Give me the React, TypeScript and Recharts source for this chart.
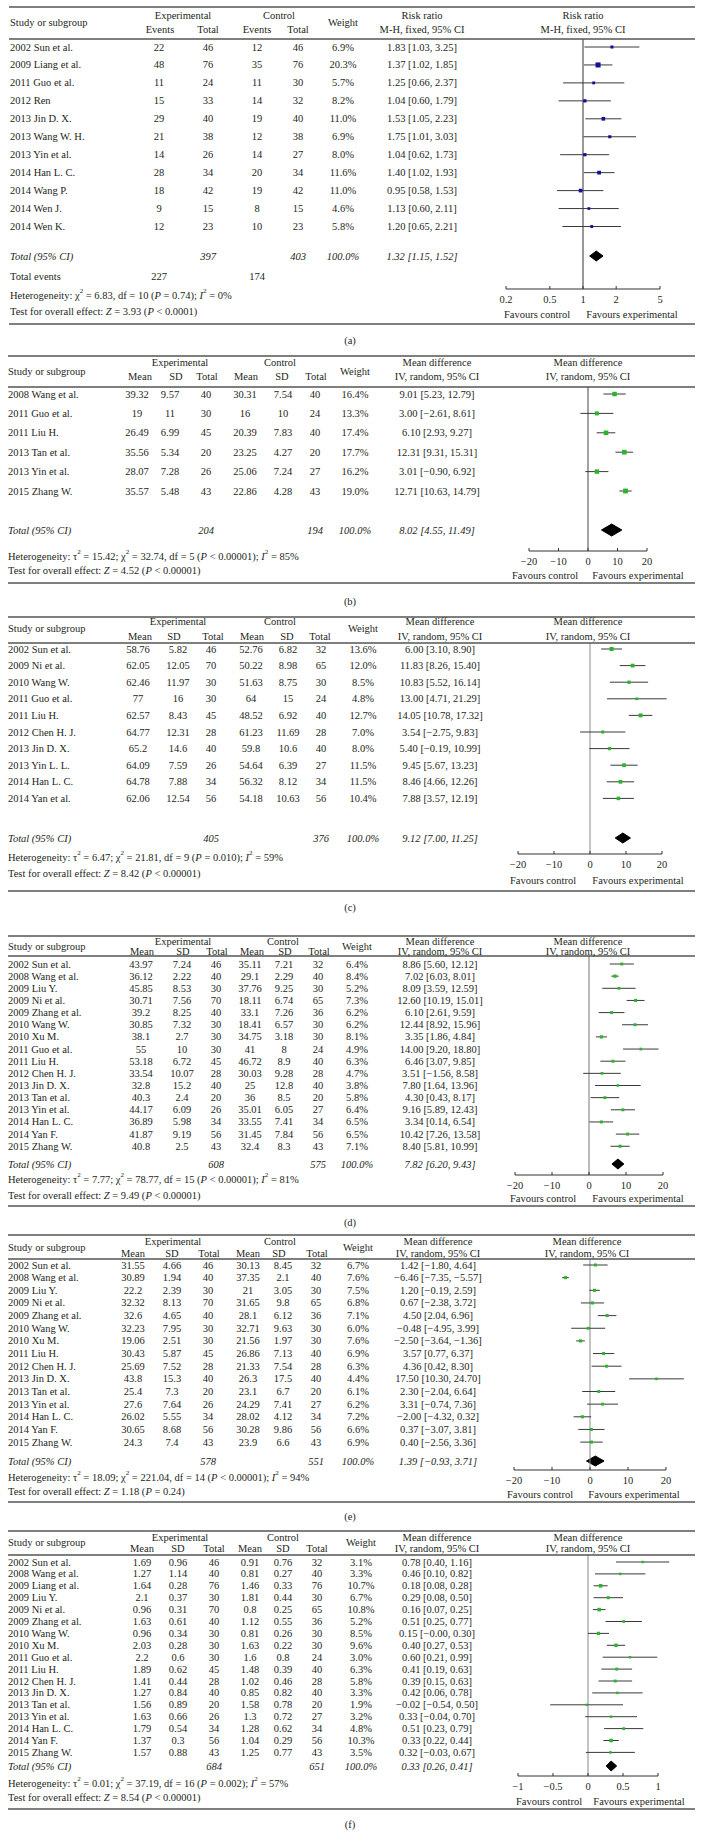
import React from "react";
import { ComposedChart, XAxis, YAxis, Scatter, Area, ReferenceLine } from "recharts";

if (typeof document !== "undefined") document.body.style.margin = "0";

const W = 703;
const H = 1846;
const FONT = '"Liberation Serif", "Times New Roman", serif';
const INK = "#231f20";
const BLUE = "#10109c";
const GREEN = "#2cb52c";

// ---------- (a) risk ratio, fixed ----------
const A_STUDIES = ["2002 Sun et al.", "2009 Liang et al.", "2011 Guo et al.", "2012 Ren", "2013 Jin D. X.", "2013 Wang W. H.", "2013 Yin et al.", "2014 Han L. C.", "2014 Wang P.", "2014 Wen J.", "2014 Wen K."];
const A_EXP = [[22, 46], [48, 76], [11, 24], [15, 33], [29, 40], [21, 38], [14, 26], [28, 34], [18, 42], [9, 15], [12, 23]];
const A_CTRL = [[12, 46], [35, 76], [11, 30], [14, 32], [19, 40], [12, 38], [14, 27], [20, 34], [19, 42], [8, 15], [10, 23]];
const A_WEIGHT = [6.9, 20.3, 5.7, 8.2, 11.0, 6.9, 8.0, 11.6, 11.0, 4.6, 5.8];
const A_EST = [1.83, 1.37, 1.25, 1.04, 1.53, 1.75, 1.04, 1.40, 0.95, 1.13, 1.20];
const A_LO = [1.03, 1.02, 0.66, 0.60, 1.05, 1.01, 0.62, 1.02, 0.58, 0.60, 0.65];
const A_HI = [3.25, 1.85, 2.37, 1.79, 2.23, 3.03, 1.73, 1.93, 1.53, 2.11, 2.21];
const A_TOTAL_N = [397, 403];
const A_TOTAL_CI = [1.32, 1.15, 1.52];
const A_EVENTS = [227, 174];
const A_HET = "Heterogeneity: χ^2 = 6.83, df = 10 (_P_ = 0.74); _I_^2 = 0%";
const A_TEST = "Test for overall effect: _Z_ = 3.93 (_P_ < 0.0001)";
const A_TICKS = [0.2, 0.5, 1, 2, 5];

// ---------- (b) ----------
const B_STUDIES = ["2008 Wang et al.", "2011 Guo et al.", "2011 Liu H.", "2013 Tan et al.", "2013 Yin et al.", "2015 Zhang W."];
const B_EXP = [[39.32, 9.57, 40], [19, 11, 30], [26.49, 6.99, 45], [35.56, 5.34, 20], [28.07, 7.28, 26], [35.57, 5.48, 43]];
const B_CTRL = [[30.31, 7.54, 40], [16, 10, 24], [20.39, 7.83, 40], [23.25, 4.27, 20], [25.06, 7.24, 27], [22.86, 4.28, 43]];
const B_WEIGHT = [16.4, 13.3, 17.4, 17.7, 16.2, 19.0];
const B_EST = [9.01, 3.00, 6.10, 12.31, 3.01, 12.71];
const B_LO = [5.23, -2.61, 2.93, 9.31, -0.90, 10.63];
const B_HI = [12.79, 8.61, 9.27, 15.31, 6.92, 14.79];
const B_TOTAL_N = [204, 194];
const B_TOTAL_CI = [8.02, 4.55, 11.49];
const B_HET = "Heterogeneity: τ^2 = 15.42; χ^2 = 32.74, df = 5 (_P_ < 0.00001); _I_^2 = 85%";
const B_TEST = "Test for overall effect: _Z_ = 4.52 (_P_ < 0.00001)";

// ---------- (c) ----------
const C_STUDIES = ["2002 Sun et al.", "2009 Ni et al.", "2010 Wang W.", "2011 Guo et al.", "2011 Liu H.", "2012 Chen H. J.", "2013 Jin D. X.", "2013 Yin L. L.", "2014 Han L. C.", "2014 Yan et al."];
const C_EXP = [[58.76, 5.82, 46], [62.05, 12.05, 70], [62.46, 11.97, 30], [77, 16, 30], [62.57, 8.43, 45], [64.77, 12.31, 28], [65.2, 14.6, 40], [64.09, 7.59, 26], [64.78, 7.88, 34], [62.06, 12.54, 56]];
const C_CTRL = [[52.76, 6.82, 32], [50.22, 8.98, 65], [51.63, 8.75, 30], [64, 15, 24], [48.52, 6.92, 40], [61.23, 11.69, 28], [59.8, 10.6, 40], [54.64, 6.39, 27], [56.32, 8.12, 34], [54.18, 10.63, 56]];
const C_WEIGHT = [13.6, 12.0, 8.5, 4.8, 12.7, 7.0, 8.0, 11.5, 11.5, 10.4];
const C_EST = [6.00, 11.83, 10.83, 13.00, 14.05, 3.54, 5.40, 9.45, 8.46, 7.88];
const C_LO = [3.10, 8.26, 5.52, 4.71, 10.78, -2.75, -0.19, 5.67, 4.66, 3.57];
const C_HI = [8.90, 15.40, 16.14, 21.29, 17.32, 9.83, 10.99, 13.23, 12.26, 12.19];
const C_TOTAL_N = [405, 376];
const C_TOTAL_CI = [9.12, 7.00, 11.25];
const C_HET = "Heterogeneity: τ^2 = 6.47; χ^2 = 21.81, df = 9 (_P_ = 0.010); _I_^2 = 59%";
const C_TEST = "Test for overall effect: _Z_ = 8.42 (_P_ < 0.00001)";

// ---------- (d) ----------
const D_STUDIES = ["2002 Sun et al.", "2008 Wang et al.", "2009 Liu Y.", "2009 Ni et al.", "2009 Zhang et al.", "2010 Wang W.", "2010 Xu M.", "2011 Guo et al.", "2011 Liu H.", "2012 Chen H. J.", "2013 Jin D. X.", "2013 Tan et al.", "2013 Yin et al.", "2014 Han L. C.", "2014 Yan F.", "2015 Zhang W."];
const D_EXP = [[43.97, 7.24, 46], [36.12, 2.22, 40], [45.85, 8.53, 30], [30.71, 7.56, 70], [39.2, 8.25, 40], [30.85, 7.32, 30], [38.1, 2.7, 30], [55, 10, 30], [53.18, 6.72, 45], [33.54, 10.07, 28], [32.8, 15.2, 40], [40.3, 2.4, 20], [44.17, 6.09, 26], [36.89, 5.98, 34], [41.87, 9.19, 56], [40.8, 2.5, 43]];
const D_CTRL = [[35.11, 7.21, 32], [29.1, 2.29, 40], [37.76, 9.25, 30], [18.11, 6.74, 65], [33.1, 7.26, 36], [18.41, 6.57, 30], [34.75, 3.18, 30], [41, 8, 24], [46.72, 8.9, 40], [30.03, 9.28, 28], [25, 12.8, 40], [36, 8.5, 20], [35.01, 6.05, 27], [33.55, 7.41, 34], [31.45, 7.84, 56], [32.4, 8.3, 43]];
const D_WEIGHT = [6.4, 8.4, 5.2, 7.3, 6.2, 6.2, 8.1, 4.9, 6.3, 4.7, 3.8, 5.8, 6.4, 6.5, 6.5, 7.1];
const D_EST = [8.86, 7.02, 8.09, 12.60, 6.10, 12.44, 3.35, 14.00, 6.46, 3.51, 7.80, 4.30, 9.16, 3.34, 10.42, 8.40];
const D_LO = [5.60, 6.03, 3.59, 10.19, 2.61, 8.92, 1.86, 9.20, 3.07, -1.56, 1.64, 0.43, 5.89, 0.14, 7.26, 5.81];
const D_HI = [12.12, 8.01, 12.59, 15.01, 9.59, 15.96, 4.84, 18.80, 9.85, 8.58, 13.96, 8.17, 12.43, 6.54, 13.58, 10.99];
const D_TOTAL_N = [608, 575];
const D_TOTAL_CI = [7.82, 6.20, 9.43];
const D_HET = "Heterogeneity: τ^2 = 7.77; χ^2 = 78.77, df = 15 (_P_ < 0.00001); _I_^2 = 81%";
const D_TEST = "Test for overall effect: _Z_ = 9.49 (_P_ < 0.00001)";

// ---------- (e) ----------
const E_STUDIES = ["2002 Sun et al.", "2008 Wang et al.", "2009 Liu Y.", "2009 Ni et al.", "2009 Zhang et al.", "2010 Wang W.", "2010 Xu M.", "2011 Liu H.", "2012 Chen H. J.", "2013 Jin D. X.", "2013 Tan et al.", "2013 Yin et al.", "2014 Han L. C.", "2014 Yan F.", "2015 Zhang W."];
const E_EXP = [[31.55, 4.66, 46], [30.89, 1.94, 40], [22.2, 2.39, 30], [32.32, 8.13, 70], [32.6, 4.65, 40], [32.23, 7.95, 30], [19.06, 2.51, 30], [30.43, 5.87, 45], [25.69, 7.52, 28], [43.8, 15.3, 40], [25.4, 7.3, 20], [27.6, 7.64, 26], [26.02, 5.55, 34], [30.65, 8.68, 56], [24.3, 7.4, 43]];
const E_CTRL = [[30.13, 8.45, 32], [37.35, 2.1, 40], [21, 3.05, 30], [31.65, 9.8, 65], [28.1, 6.12, 36], [32.71, 9.63, 30], [21.56, 1.97, 30], [26.86, 7.13, 40], [21.33, 7.54, 28], [26.3, 17.5, 40], [23.1, 6.7, 20], [24.29, 7.41, 27], [28.02, 4.12, 34], [30.28, 9.86, 56], [23.9, 6.6, 43]];
const E_WEIGHT = [6.7, 7.6, 7.5, 6.8, 7.1, 6.0, 7.6, 6.9, 6.3, 4.4, 6.1, 6.2, 7.2, 6.6, 6.9];
const E_EST = [1.42, -6.46, 1.20, 0.67, 4.50, -0.48, -2.50, 3.57, 4.36, 17.50, 2.30, 3.31, -2.00, 0.37, 0.40];
const E_LO = [-1.80, -7.35, -0.19, -2.38, 2.04, -4.95, -3.64, 0.77, 0.42, 10.30, -2.04, -0.74, -4.32, -3.07, -2.56];
const E_HI = [4.64, -5.57, 2.59, 3.72, 6.96, 3.99, -1.36, 6.37, 8.30, 24.70, 6.64, 7.36, 0.32, 3.81, 3.36];
const E_TOTAL_N = [578, 551];
const E_TOTAL_CI = [1.39, -0.93, 3.71];
const E_HET = "Heterogeneity: τ^2 = 18.09; χ^2 = 221.04, df = 14 (_P_ < 0.00001); _I_^2 = 94%";
const E_TEST = "Test for overall effect: _Z_ = 1.18 (_P_ = 0.24)";

// ---------- (f) ----------
const F_STUDIES = ["2002 Sun et al.", "2008 Wang et al.", "2009 Liang et al.", "2009 Liu Y.", "2009 Ni et al.", "2009 Zhang et al.", "2010 Wang W.", "2010 Xu M.", "2011 Guo et al.", "2011 Liu H.", "2012 Chen H. J.", "2013 Jin D. X.", "2013 Tan et al.", "2013 Yin et al.", "2014 Han L. C.", "2014 Yan F.", "2015 Zhang W."];
const F_EXP = [[1.69, 0.96, 46], [1.27, 1.14, 40], [1.64, 0.28, 76], [2.1, 0.37, 30], [0.96, 0.31, 70], [1.63, 0.61, 40], [0.96, 0.34, 30], [2.03, 0.28, 30], [2.2, 0.6, 30], [1.89, 0.62, 45], [1.41, 0.44, 28], [1.27, 0.84, 40], [1.56, 0.89, 20], [1.63, 0.66, 26], [1.79, 0.54, 34], [1.37, 0.3, 56], [1.57, 0.88, 43]];
const F_CTRL = [[0.91, 0.76, 32], [0.81, 0.27, 40], [1.46, 0.33, 76], [1.81, 0.44, 30], [0.8, 0.25, 65], [1.12, 0.55, 36], [0.81, 0.26, 30], [1.63, 0.22, 30], [1.6, 0.8, 24], [1.48, 0.39, 40], [1.02, 0.46, 28], [0.85, 0.82, 40], [1.58, 0.78, 20], [1.3, 0.72, 27], [1.28, 0.62, 34], [1.04, 0.29, 56], [1.25, 0.77, 43]];
const F_WEIGHT = [3.1, 3.3, 10.7, 6.7, 10.8, 5.2, 8.5, 9.6, 3.0, 6.3, 5.8, 3.3, 1.9, 3.2, 4.8, 10.3, 3.5];
const F_EST = [0.78, 0.46, 0.18, 0.29, 0.16, 0.51, 0.15, 0.40, 0.60, 0.41, 0.39, 0.42, -0.02, 0.33, 0.51, 0.33, 0.32];
const F_LO = [0.40, 0.10, 0.08, 0.08, 0.07, 0.25, -0, 0.27, 0.21, 0.19, 0.15, 0.06, -0.54, -0.04, 0.23, 0.22, -0.03];
const F_HI = [1.16, 0.82, 0.28, 0.50, 0.25, 0.77, 0.30, 0.53, 0.99, 0.63, 0.63, 0.78, 0.50, 0.70, 0.79, 0.44, 0.67];
const F_TOTAL_N = [684, 651];
const F_TOTAL_CI = [0.33, 0.26, 0.41];
const F_HET = "Heterogeneity: τ^2 = 0.01; χ^2 = 37.19, df = 16 (_P_ = 0.002); _I_^2 = 57%";
const F_TEST = "Test for overall effect: _Z_ = 8.54 (_P_ < 0.00001)";

const MD_TICKS = [-20, -10, 0, 10, 20];
const F_TICKS = [-1, -0.5, 0, 0.5, 1];

// ---------- layout (pixel positions on the page) ----------
type Lay = {
  top: number; head: number; bottom: number; labelY: number; ruleX0: number;
  groupY: number; subY: number; midY: number;
  cols: number[]; subX: number[]; groupX: number[]; ciX: number;
  row0: number; gap: number; totalY: number; eventsY?: number; hetY: number; testY: number;
  x0: number; x1: number; axisY: number; plotHeadX: number;
  favY: number; favC: number; favE: number; dia: number; studyX: number;
};

const LAY_A: Lay = { top: 7, head: 39, bottom: 324, labelY: 340, ruleX0: 9, groupY: 15, subY: 29, midY: 22,
  cols: [159, 208, 257, 298, 343], subX: [160, 208, 257, 298], groupX: [183, 279], ciX: 422,
  row0: 47, gap: 17.95, totalY: 256, eventsY: 276, hetY: 295, testY: 311,
  x0: 506, x1: 660, axisY: 289, plotHeadX: 583, favY: 314, favC: 537, favE: 632, dia: 5, studyX: 10 };
const LAY_B: Lay = { top: 356, head: 387, bottom: 583, labelY: 601, ruleX0: 8, groupY: 362, subY: 376, midY: 371,
  cols: [137, 170, 206, 245, 283, 315, 355], subX: [140, 176, 207, 246, 282, 316], groupX: [180, 280], ciX: 437,
  row0: 394, gap: 19.4, totalY: 530, hetY: 556, testY: 570,
  x0: 529, x1: 647, axisY: 551, plotHeadX: 588, favY: 575, favC: 545, favE: 638, dia: 6, studyX: 8 };
const LAY_C: Lay = { top: 617, head: 643, bottom: 891, labelY: 907, ruleX0: 8, groupY: 621, subY: 636, midY: 628,
  cols: [138, 178, 211, 251, 288, 321, 363], subX: [140, 174, 213, 252, 287, 320], groupX: [178, 280], ciX: 440,
  row0: 649, gap: 16.6, totalY: 838, hetY: 857, testY: 873,
  x0: 518, x1: 662, axisY: 854, plotHeadX: 588, favY: 880, favC: 543, favE: 638, dia: 5, studyX: 8 };
const LAY_D: Lay = { top: 936, head: 956, bottom: 1206, labelY: 1222, ruleX0: 8, groupY: 941, subY: 951, midY: 946,
  cols: [141, 182, 216, 250, 284, 318, 357], subX: [142, 183, 217, 252, 285, 319], groupX: [183, 283], ciX: 440,
  row0: 964, gap: 12.15, totalY: 1164, hetY: 1179, testY: 1195,
  x0: 515, x1: 663, axisY: 1175, plotHeadX: 588, favY: 1198, favC: 543, favE: 638, dia: 5, studyX: 8 };
const LAY_E: Lay = { top: 1235, head: 1259, bottom: 1502, labelY: 1516, ruleX0: 8, groupY: 1241, subY: 1253, midY: 1247,
  cols: [133, 172, 208, 248, 283, 316, 358], subX: [133, 172, 209, 248, 279, 317], groupX: [173, 280], ciX: 438,
  row0: 1265, gap: 12.65, totalY: 1461, hetY: 1477, testY: 1491,
  x0: 514, x1: 666, axisY: 1470, plotHeadX: 587, favY: 1494, favC: 540, favE: 634, dia: 5, studyX: 8 };
const LAY_F: Lay = { top: 1531, head: 1555, bottom: 1809, labelY: 1824, ruleX0: 8, groupY: 1537, subY: 1548, midY: 1542,
  cols: [142, 178, 214, 250, 283, 317, 361], subX: [142, 178, 214, 250, 283, 317], groupX: [180, 283], ciX: 437,
  row0: 1562, gap: 11.9, totalY: 1766, hetY: 1783, testY: 1797,
  x0: 518, x1: 658, axisY: 1776, plotHeadX: 588, favY: 1801, favC: 549, favE: 639, dia: 5, studyX: 8 };

type Panel = {
  label: string; rr: boolean; lay: Lay;
  studies: string[]; exp: number[][]; ctrl: number[][]; weight: number[];
  est: number[]; lo: number[]; hi: number[];
  totalN: number[]; totalCi: number[]; events?: number[];
  het: string; test: string; ticks: number[]; color: string; refColor: string;
};

const PANELS: Panel[] = [
  { label: "(a)", rr: true, lay: LAY_A, studies: A_STUDIES, exp: A_EXP, ctrl: A_CTRL, weight: A_WEIGHT, est: A_EST, lo: A_LO, hi: A_HI, totalN: A_TOTAL_N, totalCi: A_TOTAL_CI, events: A_EVENTS, het: A_HET, test: A_TEST, ticks: A_TICKS, color: BLUE, refColor: "#333" },
  { label: "(b)", rr: false, lay: LAY_B, studies: B_STUDIES, exp: B_EXP, ctrl: B_CTRL, weight: B_WEIGHT, est: B_EST, lo: B_LO, hi: B_HI, totalN: B_TOTAL_N, totalCi: B_TOTAL_CI, het: B_HET, test: B_TEST, ticks: MD_TICKS, color: GREEN, refColor: "#444" },
  { label: "(c)", rr: false, lay: LAY_C, studies: C_STUDIES, exp: C_EXP, ctrl: C_CTRL, weight: C_WEIGHT, est: C_EST, lo: C_LO, hi: C_HI, totalN: C_TOTAL_N, totalCi: C_TOTAL_CI, het: C_HET, test: C_TEST, ticks: MD_TICKS, color: GREEN, refColor: "#8c8c8c" },
  { label: "(d)", rr: false, lay: LAY_D, studies: D_STUDIES, exp: D_EXP, ctrl: D_CTRL, weight: D_WEIGHT, est: D_EST, lo: D_LO, hi: D_HI, totalN: D_TOTAL_N, totalCi: D_TOTAL_CI, het: D_HET, test: D_TEST, ticks: MD_TICKS, color: GREEN, refColor: "#777" },
  { label: "(e)", rr: false, lay: LAY_E, studies: E_STUDIES, exp: E_EXP, ctrl: E_CTRL, weight: E_WEIGHT, est: E_EST, lo: E_LO, hi: E_HI, totalN: E_TOTAL_N, totalCi: E_TOTAL_CI, het: E_HET, test: E_TEST, ticks: MD_TICKS, color: GREEN, refColor: "#888" },
  { label: "(f)", rr: false, lay: LAY_F, studies: F_STUDIES, exp: F_EXP, ctrl: F_CTRL, weight: F_WEIGHT, est: F_EST, lo: F_LO, hi: F_HI, totalN: F_TOTAL_N, totalCi: F_TOTAL_CI, het: F_HET, test: F_TEST, ticks: F_TICKS, color: GREEN, refColor: "#888" },
];

const neg = (v: number) => v < 0 || Object.is(v, -0);
const fmt2 = (v: number) => (neg(v) ? "−" : "") + Math.abs(v).toFixed(2);
const ciText = (c: number[]) => `${fmt2(c[0])} [${fmt2(c[1])}, ${fmt2(c[2])}]`;
const fmtTick = (v: number) => (v < 0 ? "−" + Math.abs(v) : String(v));

// tiny markup: _x_ italic, ^2 superscript
function Rich({ s, x, y }: { s: string; x: number; y: number }) {
  const parts = s.split(/(_[^_]+_|\^\d)/).filter(Boolean);
  let raised = false;
  const out = parts.map((p, i) => {
    if (p.startsWith("^")) {
      raised = true;
      return <tspan key={i} dy={-4} fontSize={7}>{p.slice(1)}</tspan>;
    }
    const dy = raised ? 4 : 0;
    raised = false;
    if (p.startsWith("_")) return <tspan key={i} dy={dy} fontStyle="italic">{p.slice(1, -1)}</tspan>;
    return <tspan key={i} dy={dy}>{p}</tspan>;
  });
  return <text x={x} y={y} dominantBaseline="central">{out}</text>;
}

function PanelText({ p }: { p: Panel }) {
  const L = p.lay;
  const rowY = (i: number) => L.row0 + i * L.gap;
  const subs = p.rr ? ["Events", "Total", "Events", "Total"] : ["Mean", "SD", "Total", "Mean", "SD", "Total"];
  const ciHead = p.rr ? ["Risk ratio", "M-H, fixed, 95% CI"] : ["Mean difference", "IV, random, 95% CI"];
  const nc = p.rr ? 2 : 3;
  const wX = L.cols[L.cols.length - 1];
  const rule = (y: number) => <line x1={L.ruleX0} x2={695} y1={y} y2={y} stroke="#555" strokeWidth={1.3} />;
  return (
    <g fill={INK} fontFamily={FONT} fontSize={10.5}>
      {rule(L.top)}
      {rule(L.head)}
      {rule(L.bottom)}
      <text x={L.studyX} y={L.midY} dominantBaseline="central">Study or subgroup</text>
      <text x={L.groupX[0]} y={L.groupY} textAnchor="middle" dominantBaseline="central">Experimental</text>
      <text x={L.groupX[1]} y={L.groupY} textAnchor="middle" dominantBaseline="central">Control</text>
      {subs.map((s, i) => (
        <text key={i} x={L.subX[i]} y={L.subY} textAnchor="middle" dominantBaseline="central">{s}</text>
      ))}
      <text x={wX} y={L.midY} textAnchor="middle" dominantBaseline="central">Weight</text>
      <text x={L.ciX} y={L.groupY} textAnchor="middle" dominantBaseline="central">{ciHead[0]}</text>
      <text x={L.ciX} y={L.subY} textAnchor="middle" dominantBaseline="central">{ciHead[1]}</text>
      <text x={L.plotHeadX} y={L.groupY} textAnchor="middle" dominantBaseline="central">{ciHead[0]}</text>
      <text x={L.plotHeadX} y={L.subY} textAnchor="middle" dominantBaseline="central">{ciHead[1]}</text>
      {p.studies.map((s, i) => {
        const cells = [...p.exp[i], ...p.ctrl[i]].map(String).concat(p.weight[i].toFixed(1) + "%");
        return (
          <g key={i}>
            <text x={L.studyX} y={rowY(i)} dominantBaseline="central">{s}</text>
            {cells.map((c, j) => (
              <text key={j} x={L.cols[j]} y={rowY(i)} textAnchor="middle" dominantBaseline="central">{c}</text>
            ))}
            <text x={L.ciX} y={rowY(i)} textAnchor="middle" dominantBaseline="central">
              {ciText([p.est[i], p.lo[i], p.hi[i]])}
            </text>
          </g>
        );
      })}
      <g fontStyle="italic">
        <text x={L.studyX} y={L.totalY} dominantBaseline="central">Total (95% CI)</text>
        <text x={L.cols[nc - 1]} y={L.totalY} textAnchor="middle" dominantBaseline="central">{p.totalN[0]}</text>
        <text x={L.cols[2 * nc - 1]} y={L.totalY} textAnchor="middle" dominantBaseline="central">{p.totalN[1]}</text>
        <text x={wX} y={L.totalY} textAnchor="middle" dominantBaseline="central">100.0%</text>
        <text x={L.ciX} y={L.totalY} textAnchor="middle" dominantBaseline="central">{ciText(p.totalCi)}</text>
      </g>
      {p.events && L.eventsY !== undefined ? (
        <g>
          <text x={L.studyX} y={L.eventsY} dominantBaseline="central">Total events</text>
          <text x={L.cols[0]} y={L.eventsY} textAnchor="middle" dominantBaseline="central">{p.events[0]}</text>
          <text x={L.cols[2]} y={L.eventsY} textAnchor="middle" dominantBaseline="central">{p.events[1]}</text>
        </g>
      ) : null}
      <Rich s={p.het} x={L.studyX} y={L.hetY} />
      <Rich s={p.test} x={L.studyX} y={L.testY} />
      <text x={L.favC} y={L.favY} textAnchor="middle" dominantBaseline="central">Favours control</text>
      <text x={L.favE} y={L.favY} textAnchor="middle" dominantBaseline="central">Favours experimental</text>
      <text x={350} y={L.labelY} textAnchor="middle" dominantBaseline="central">{p.label}</text>
    </g>
  );
}

function Forest({ p }: { p: Panel }) {
  const L = p.lay;
  const axisH = 30;
  const plotH = L.axisY - L.head;
  const toRow = (py: number) => (py - L.row0) / L.gap;
  const yDom = [toRow(L.head), toRow(L.axisY)];
  const tRow = toRow(L.totalY);
  const hh = L.dia / L.gap;
  const pts = p.est.map((e, i) => ({ x: e, y: i, w: p.weight[i] }));
  const [te, tl, th] = p.totalCi;
  const diamond = [
    { x: tl, r: [tRow, tRow] },
    { x: te, r: [tRow - hh, tRow + hh] },
    { x: th, r: [tRow, tRow] },
  ];
  const dom = [p.ticks[0], p.ticks[p.ticks.length - 1]];
  const square = (props: any) => {
    const s = 2 + 0.15 * props.payload.w;
    return <rect x={props.cx - s / 2} y={props.cy - s / 2} width={s} height={s} fill={p.color} />;
  };
  return (
    <div style={{ position: "absolute", left: 0, top: L.head, width: W, height: plotH + axisH }}>
      <ComposedChart width={W} height={plotH + axisH} margin={{ top: 0, right: W - L.x1, bottom: 0, left: L.x0 }}>
        <XAxis
          type="number"
          dataKey="x"
          scale={p.rr ? "log" : "linear"}
          domain={dom}
          ticks={p.ticks}
          allowDataOverflow
          interval={0}
          height={axisH}
          tickSize={-3}
          tickMargin={10}
          tickFormatter={fmtTick}
          tick={{ fontSize: 10.5, fill: INK, fontFamily: FONT }}
          axisLine={{ stroke: "#333" }}
          tickLine={{ stroke: "#333" }}
        />
        <YAxis type="number" dataKey="y" hide reversed domain={yDom} allowDataOverflow />
        <ReferenceLine x={p.rr ? 1 : 0} stroke={p.refColor} strokeWidth={1} ifOverflow="visible" />
        {p.est.map((_, i) => (
          <ReferenceLine
            key={i}
            segment={[{ x: p.lo[i], y: i }, { x: p.hi[i], y: i }]}
            stroke="#3a3a3a"
            strokeWidth={1}
            ifOverflow="visible"
          />
        ))}
        <Area data={diamond} dataKey="r" type="linear" stroke="#000" fill="#000" fillOpacity={1} dot={false} activeDot={false} isAnimationActive={false} />
        <Scatter data={pts} shape={square} isAnimationActive={false} />
      </ComposedChart>
    </div>
  );
}

export default function App() {
  return (
    <div style={{ position: "relative", width: W, height: H, background: "#fff", overflow: "hidden" }}>
      {PANELS.map((p) => (
        <Forest key={p.label} p={p} />
      ))}
      <svg width={W} height={H} style={{ position: "absolute", left: 0, top: 0, pointerEvents: "none" }}>
        {PANELS.map((p) => (
          <PanelText key={p.label} p={p} />
        ))}
      </svg>
    </div>
  );
}
